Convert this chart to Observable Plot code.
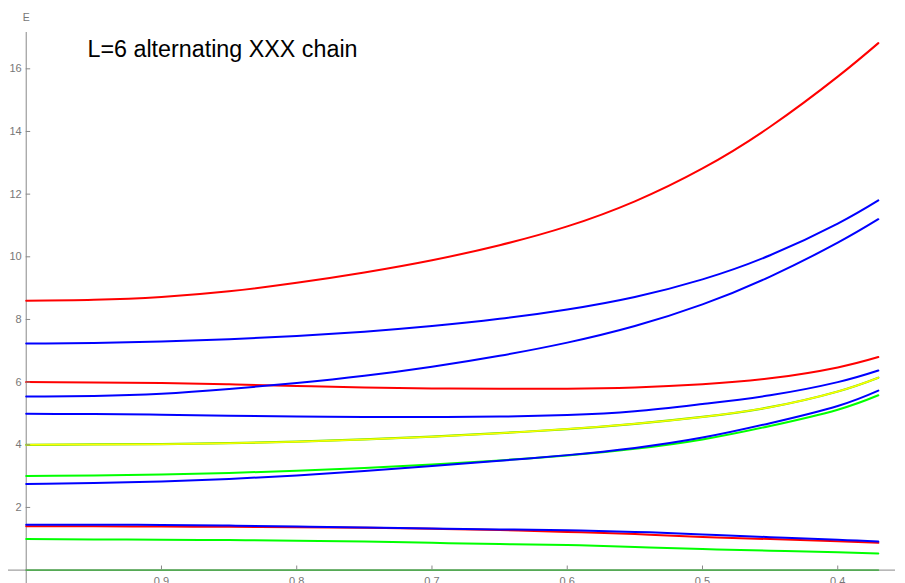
<!DOCTYPE html>
<html><head><meta charset="utf-8">
<script src="https://cdn.jsdelivr.net/npm/d3@7"></script>
<script src="https://cdn.jsdelivr.net/npm/@observablehq/plot@0.6"></script>
<style>
html,body{margin:0;padding:0;overflow:hidden;background:#fff;}
#chart{position:relative;width:905px;height:583px;overflow:hidden;}
</style></head><body><div id="chart"></div>
<script>
const title = "L=6 alternating XXX chain";
const yLabel = "E";
const xGrid = [1.0, 0.95, 0.9, 0.85, 0.8, 0.75, 0.7, 0.65, 0.6, 0.55, 0.5, 0.45, 0.4, 0.37];
const red1   = [8.60, 8.63, 8.72, 8.90, 9.17, 9.50, 9.89, 10.37, 10.97, 11.77, 12.82, 14.15, 15.75, 16.82];
const blue1  = [7.23, 7.25, 7.30, 7.37, 7.47, 7.61, 7.79, 8.02, 8.32, 8.72, 9.28, 10.05, 11.06, 11.80];
const blue2  = [5.54, 5.56, 5.63, 5.78, 5.97, 6.20, 6.49, 6.84, 7.26, 7.79, 8.48, 9.37, 10.45, 11.20];
const red2   = [6.00, 5.99, 5.97, 5.93, 5.88, 5.83, 5.80, 5.79, 5.79, 5.83, 5.93, 6.12, 6.47, 6.80];
const blue3  = [4.99, 4.98, 4.96, 4.93, 4.90, 4.89, 4.89, 4.90, 4.95, 5.07, 5.30, 5.58, 6.00, 6.37];
const yellow1= [4.00, 4.01, 4.02, 4.05, 4.10, 4.17, 4.26, 4.37, 4.50, 4.67, 4.89, 5.20, 5.70, 6.14];
const green1 = [3.00, 3.02, 3.05, 3.10, 3.17, 3.26, 3.37, 3.50, 3.66, 3.87, 4.17, 4.60, 5.12, 5.58];
const blue4  = [2.75, 2.78, 2.83, 2.91, 3.02, 3.16, 3.32, 3.49, 3.67, 3.90, 4.23, 4.69, 5.24, 5.73];
const red3   = [1.40, 1.40, 1.39, 1.38, 1.37, 1.35, 1.32, 1.28, 1.22, 1.15, 1.06, 0.99, 0.92, 0.87];
const blue5  = [1.45, 1.45, 1.44, 1.42, 1.39, 1.36, 1.33, 1.30, 1.27, 1.22, 1.14, 1.05, 0.97, 0.91];
const green2 = [0.99, 0.98, 0.97, 0.96, 0.94, 0.91, 0.87, 0.83, 0.80, 0.74, 0.67, 0.62, 0.57, 0.53];
const zero   = [0, 0, 0, 0, 0, 0, 0, 0, 0, 0, 0, 0, 0, 0];
const xTicks = [0.9, 0.8, 0.7, 0.6, 0.5, 0.4];
const xTickLabels = ["0.9", "0.8", "0.7", "0.6", "0.5", "0.4"];
const yTicks = [2, 4, 6, 8, 10, 12, 14, 16];
const yTickLabels = ["2", "4", "6", "8", "10", "12", "14", "16"];

const series = [
  {name: "zero", values: zero, color: "#55aa55", w: 1.8},
  {name: "green2", values: green2, color: "#00ff00", w: 2},
  {name: "red3", values: red3, color: "#ff0000", w: 2},
  {name: "blue5", values: blue5, color: "#0000ff", w: 2},
  {name: "green1", values: green1, color: "#00ff00", w: 2},
  {name: "blue4", values: blue4, color: "#0000ff", w: 2},
  {name: "yellowUnder", values: yellow1, color: "#66dd00", w: 2.2},
  {name: "yellow1", values: yellow1, color: "#ffff00", w: 1.5},
  {name: "blue3", values: blue3, color: "#0000ff", w: 2},
  {name: "red2", values: red2, color: "#ff0000", w: 2},
  {name: "blue2", values: blue2, color: "#0000ff", w: 2},
  {name: "blue1", values: blue1, color: "#0000ff", w: 2},
  {name: "red1", values: red1, color: "#ff0000", w: 2}
];

const axisColor = "#888";
const labelColor = "#777";

const lineMarks = series.map(s =>
  Plot.line(xGrid.map((x, i) => ({x, E: s.values[i]})), {
    x: "x", y: "E", stroke: s.color, strokeWidth: s.w, curve: "natural"
  })
);

const chart = Plot.plot({
  width: 905, height: 600,
  marginLeft: 8, marginRight: 10, marginTop: 32, marginBottom: 0,
  style: {fontFamily: "'Liberation Sans', Arial, sans-serif", background: "#fff"},
  x: {domain: [1.0131, 0.3573], axis: null},
  y: {domain: [-0.970, 17.159], axis: null},
  marks: [
    Plot.ruleY([0], {stroke: axisColor, strokeWidth: 1}),
    Plot.ruleX([1.0], {stroke: axisColor, strokeWidth: 1}),
    ...lineMarks,
    Plot.ruleX(xTicks, {y1: 0, y2: 0.13, stroke: axisColor}),
    Plot.ruleY(yTicks, {x1: 1.0, x2: 0.9967, stroke: axisColor}),
    Plot.text(yTicks, {x: 1.0, y: d => d, text: (d, i) => yTickLabels[i], textAnchor: "end", dx: -4.5, fill: labelColor, fontSize: 11}),
    Plot.text(xTicks, {x: d => d, y: 0, text: (d, i) => xTickLabels[i], lineAnchor: "top", dy: 7, fill: labelColor, fontSize: 11}),
    Plot.text([yLabel], {frameAnchor: "top-left", dx: 17.7, dy: -15, lineAnchor: "middle", textAnchor: "middle", fill: labelColor, fontSize: 10.5}),
    Plot.text([title], {frameAnchor: "top-left", dx: 79, dy: 7.6, lineAnchor: "top", textAnchor: "start", fill: "#000", fontSize: 23.3})
  ]
});
document.getElementById("chart").appendChild(chart);
</script>
</body></html>
